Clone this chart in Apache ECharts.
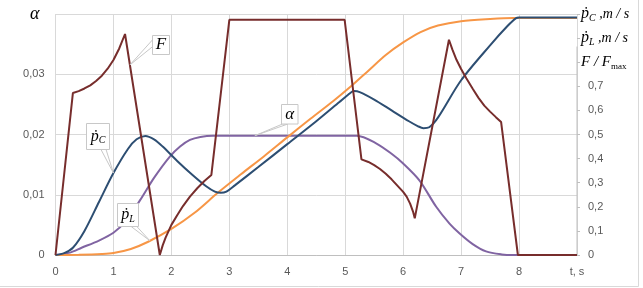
<!DOCTYPE html>
<html><head><meta charset="utf-8">
<script src="https://cdn.jsdelivr.net/npm/echarts@6/dist/echarts.min.js"></script>
<style>html,body{margin:0;padding:0;background:#fff}#c{width:643px;height:288px}</style>
</head><body><div id="c"></div>
<script>
// ---- data (time t in s) ----
const xMin = 0, xMax = 9;              // t axis
const xLastLabel = 't, s';
const alphaPts = [[0,0],[0.25,0.0004],[0.45,0.0012],[0.75,0.0024],[1.0,0.0037],[1.2,0.0055],[1.46,0.0091],[1.7,0.0128],[1.97,0.0163],[2.15,0.018],[2.32,0.0191],[2.5,0.0196],[2.72,0.0198],[2.8,0.0198],[5.2,0.0198],[5.54,0.0185],[5.8,0.0168],[6.0,0.0152],[6.28,0.0124],[6.57,0.0080],[6.8,0.0052],[6.97,0.0036],[7.2,0.0018],[7.43,0.0006],[7.7,0.0001],[7.9,0],[9,0]];
const pcPts = [[0,0],[0.15,0.008],[0.3,0.03],[0.5,0.1],[0.75,0.22],[1.0,0.34],[1.25,0.44],[1.4,0.48],[1.55,0.494],[1.7,0.48],[1.85,0.45],[2.1,0.39],[2.35,0.335],[2.6,0.285],[2.75,0.263],[2.85,0.258],[2.95,0.263],[3.1,0.29],[3.5,0.365],[4.0,0.46],[4.5,0.555],[4.9,0.635],[5.05,0.665],[5.15,0.68],[5.25,0.676],[5.5,0.645],[5.8,0.6],[6.1,0.555],[6.25,0.535],[6.35,0.526],[6.45,0.53],[6.6,0.57],[7.0,0.725],[7.5,0.87],[7.8,0.95],[7.95,0.983],[8,0.985],[9,0.985]];
const plPts = [[0,0],[0.4,0.001],[0.8,0.004],[1.0,0.008],[1.3,0.025],[1.6,0.055],[2.0,0.108],[2.4,0.175],[2.8,0.258],[3.2,0.335],[3.6,0.41],[4.0,0.488],[4.4,0.565],[4.8,0.64],[5.1,0.7],[5.4,0.765],[5.7,0.83],[6.0,0.882],[6.3,0.925],[6.6,0.952],[7.0,0.97],[7.5,0.979],[7.9,0.983],[8,0.983],[9,0.983]];
const fPts = [[0,0],[0.3,0.672],[0.4,0.68],[0.5,0.691],[0.6,0.704],[0.7,0.722],[0.8,0.744],[0.9,0.773],[1.0,0.809],[1.1,0.857],[1.2,0.917],
  [1.8,0],[1.85,0.04],[1.9,0.072],[2.0,0.125],[2.1,0.165],[2.2,0.203],[2.32,0.242],[2.45,0.278],[2.57,0.307],[2.69,0.332],
  [3.0,0.976],[4.99,0.976],
  [5.28,0.397],[5.4,0.386],[5.5,0.373],[5.6,0.357],[5.7,0.337],[5.8,0.314],[5.9,0.288],[6.0,0.262],[6.06,0.242],[6.12,0.213],[6.17,0.18],[6.2,0.152],
  [6.79,0.893],[6.85,0.852],[6.92,0.81],[7.0,0.772],[7.09,0.733],[7.2,0.69],[7.3,0.652],[7.4,0.62],[7.5,0.595],[7.6,0.572],[7.69,0.552],
  [7.98,0],[9,0]];
const rightAxisLineTop = 0.865;
const leftMax = 0.04, leftStep = 0.01;
const rightMax = 1, rightStep = 0.1;

const serif = '"Liberation Serif","DejaVu Serif",serif';
const sans = '"Liberation Sans","Noto Sans",sans-serif';
const C = {alpha:'#8064A2', pc:'#2D4E72', pl:'#F79646', f:'#772D2C', grid:'#D9D9D9', axis:'#BFBFBF', text:'#595959'};

const richCommon = {
  n:{fontFamily:sans, fontSize:11, color:C.text, padding:[0,0,0,7]},
  p:{fontFamily:serif, fontStyle:'italic', fontSize:16, color:'#000', lineHeight:18},
  s:{fontFamily:serif, fontStyle:'italic', fontSize:10, color:'#000', lineHeight:10, verticalAlign:'bottom'},
  u:{fontFamily:serif, fontStyle:'italic', fontSize:14, color:'#000', lineHeight:18},
  f:{fontFamily:serif, fontStyle:'italic', fontSize:15, color:'#000', lineHeight:18},
  m:{fontFamily:serif, fontSize:9, color:'#000', lineHeight:10, verticalAlign:'bottom'},
  a:{fontFamily:serif, fontStyle:'italic', fontSize:18, color:'#000', padding:[0,5,0,0]},
  i:{fontFamily:serif, fontStyle:'italic', fontSize:17, color:'#000'}
};

const chart = echarts.init(document.getElementById('c'), null, {renderer:'canvas'});
const lineS = (name, data, color, yIdx, smooth) => ({
  name, type:'line', data, yAxisIndex:yIdx, showSymbol:false, symbol:'none',
  smooth: smooth ? 0.3 : false,
  lineStyle:{color, width:2}, itemStyle:{color}, animation:false, silent:true
});

chart.setOption({
  backgroundColor:'#fff',
  animation:false,
  grid:{left:55.5, right:66, top:14, bottom:33, containLabel:false, outerBoundsMode:'none'},
  xAxis:{type:'value', min:xMin, max:xMax, interval:1,
    axisLine:{show:true, lineStyle:{color:C.axis, width:1}},
    axisTick:{show:false},
    splitLine:{show:true, lineStyle:{color:C.grid, width:1}},
    axisLabel:{margin:11, color:C.text, fontFamily:sans, fontSize:11,
      formatter:v => v===xMax ? xLastLabel : String(v)}},
  yAxis:[
    {type:'value', min:0, max:leftMax, interval:leftStep, position:'left',
      axisLine:{show:false}, axisTick:{show:false},
      splitLine:{show:true, lineStyle:{color:C.grid, width:1}},
      axisLabel:{margin:11, color:C.text, fontFamily:sans, fontSize:11, showMaxLabel:true, showMinLabel:true,
        rich:richCommon,
        formatter:v => {
          const k = Math.round(v/leftStep);
          if (k===4) return '{a|α}';
          return k===0 ? '0' : (v.toFixed(2).replace('.',','));
        }}},
    {type:'value', min:0, max:rightMax, interval:rightStep, position:'right',
      axisLine:{show:false},
      axisTick:{show:true, inside:false, length:3, lineStyle:{color:C.axis}},
      splitLine:{show:false},
      axisLabel:{margin:4, showMaxLabel:true, showMinLabel:true, rich:richCommon,
        formatter:v => {
          const k = Math.round(v/rightStep);
          if (k<=7) return '{n|' + (k===0 ? '0' : '0,'+k) + '}';
          if (k===8) return '{f|F / F}{m|max}';
          if (k===9) return '{p|ṗ}{s|L}{u| ,m / s}';
          return '{p|ṗ}{s|C}{u| ,m / s}';
        }}}
  ],
  series:[
    {type:'line', yAxisIndex:1, data:[[xMax,0],[xMax,rightAxisLineTop]], symbol:'none', clip:false, silent:true,
      lineStyle:{color:C.axis, width:1}, z:1},
    lineS('alpha', alphaPts, C.alpha, 0, true),
    lineS('pL', plPts, C.pl, 1, true),
    lineS('pC', pcPts, C.pc, 1, true),
    lineS('F', fPts, C.f, 1, false)
  ]
});

// ---- callouts (Excel-style data callouts) ----
function interp(pts, t){
  for (let i=1;i<pts.length;i++){
    if (t<=pts[i][0]){ const a=pts[i-1], b=pts[i]; const r=(t-a[0])/(b[0]-a[0]); return a[1]+r*(b[1]-a[1]); }
  }
  return pts[pts.length-1][1];
}
const callouts = [
  {pts:fPts, y:1, t:1.284, text:'{i|F}', dx:21.7, dy:-29.8, w:17, h:19, side:'left', b:[0.23,0.59]},
  {pts:pcPts, y:1, t:1.0, text:'{p|ṗ}{s|C}', dx:-27.6, dy:-50, w:23, h:26, side:'bottom', b:[0.63,0.85]},
  {pts:plPts, y:1, t:1.63, text:'{p|ṗ}{s|L}', dx:-33.3, dy:-38, w:21, h:23, side:'bottom', b:[0.65,0.92]},
  {pts:alphaPts, y:0, t:3.44, text:'{i|α}', dx:26, dy:-32, w:16.5, h:19.5, side:'bottom', b:[0.06,0.38]}
];
const g = [];
callouts.forEach(c => {
  const p = chart.convertToPixel({xAxisIndex:0, yAxisIndex:c.y}, [c.t, interp(c.pts, c.t)]);
  const x0 = Math.round(p[0]+c.dx)+0.5, y0 = Math.round(p[1]+c.dy)+0.5;
  let b0, b1;
  if (c.side==='left'){ b0=[x0, y0+c.h*c.b[0]]; b1=[x0, y0+c.h*c.b[1]]; }
  else { b0=[x0+c.w*c.b[0], y0+c.h]; b1=[x0+c.w*c.b[1], y0+c.h]; }
  g.push({type:'polygon', z:100, shape:{points:[b0,b1,p]}, style:{fill:'#fff', stroke:'#C8C8C8', lineWidth:1}});
  g.push({type:'rect', z:101, shape:{x:x0, y:y0, width:c.w, height:c.h}, style:{fill:'#fff', stroke:'#C8C8C8', lineWidth:1}});
  g.push({type:'text', z:102, style:{text:c.text, rich:richCommon, x:x0+c.w/2, y:y0+c.h/2, align:'center', verticalAlign:'middle'}});
});
g.push({type:'rect', z:0, silent:true, shape:{x:-2, y:-2, width:640.5, height:288.5}, style:{fill:'none', stroke:'#D9D9D9', lineWidth:1}});
chart.setOption({graphic:g});
</script>
</body></html>
